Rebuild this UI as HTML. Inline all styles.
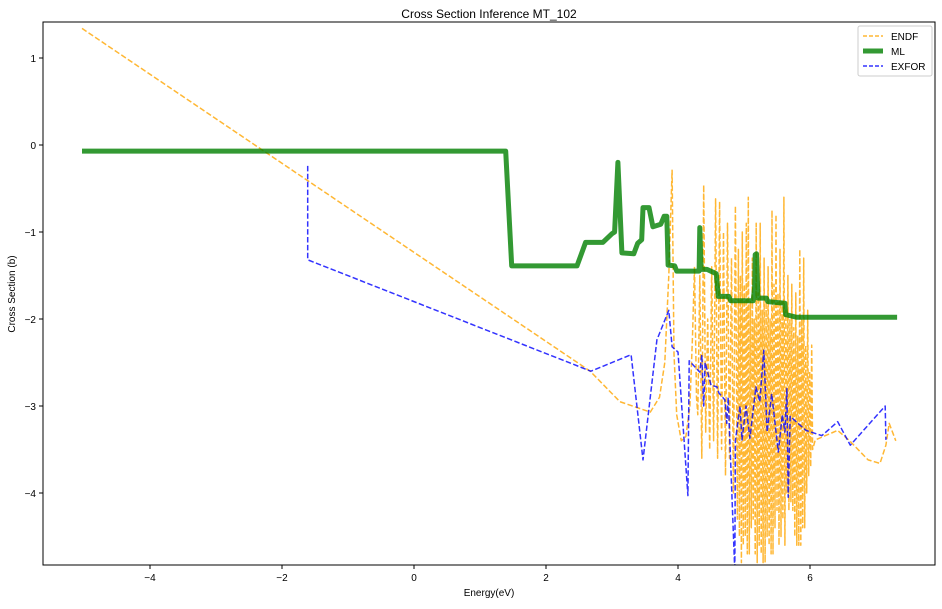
<!DOCTYPE html>
<html><head><meta charset="utf-8"><style>
body{margin:0;background:#fff;font-family:"Liberation Sans",sans-serif;}
svg text{font-family:"Liberation Sans",sans-serif;}
</style></head><body>
<svg id="chart" width="942" height="604" xmlns="http://www.w3.org/2000/svg">
<rect width="942" height="604" fill="#fff"/>
<text x="489" y="18" font-size="12" text-anchor="middle">Cross Section Inference MT_102</text>
<text x="489" y="596" font-size="10" text-anchor="middle">Energy(eV)</text>
<text x="15" y="294" font-size="10" text-anchor="middle" transform="rotate(-90 15 294)">Cross Section (b)</text>
<defs><clipPath id="pc"><rect x="43" y="22" width="892" height="543"/></clipPath></defs>
<g id="ticks"></g>
<g id="series" clip-path="url(#pc)"></g>
<rect x="43" y="22" width="892" height="543" fill="none" stroke="#000" stroke-width="1"/>
<g>
<rect x="858" y="26" width="74" height="50" fill="#fff" stroke="#ccc" rx="2"/>
<line x1="863" y1="36" x2="883" y2="36" stroke="orange" stroke-opacity="0.8" stroke-dasharray="4,2" stroke-width="1.5"/>
<text x="891" y="40" font-size="10">ENDF</text>
<line x1="863" y1="51" x2="883" y2="51" stroke="green" stroke-opacity="0.8" stroke-width="5"/>
<text x="891" y="55" font-size="10">ML</text>
<line x1="863" y1="66" x2="883" y2="66" stroke="blue" stroke-opacity="0.8" stroke-dasharray="4,2" stroke-width="1.5"/>
<text x="891" y="70" font-size="10">EXFOR</text>
</g>
</svg>
<script>
const xTicks=[-4,-2,0,2,4,6];
const yTicks=[1,0,-1,-2,-3,-4];
const mlX=[-5.03,1.39,1.48,2.47,2.6,2.86,3.0,3.04,3.09,3.15,3.33,3.39,3.45,3.47,3.56,3.62,3.74,3.79,3.83,3.85,3.95,3.98,4.32,4.33,4.35,4.44,4.58,4.61,4.77,4.8,5.14,5.16,5.17,5.19,5.21,5.34,5.36,5.62,5.63,5.8,5.84,7.32];
const mlY=[-0.07,-0.07,-1.39,-1.39,-1.12,-1.12,-1.02,-1.0,-0.2,-1.24,-1.25,-1.13,-1.09,-0.72,-0.72,-0.94,-0.91,-0.82,-0.82,-1.38,-1.39,-1.45,-1.45,-0.95,-1.43,-1.43,-1.48,-1.74,-1.74,-1.79,-1.79,-1.64,-1.26,-1.25,-1.76,-1.76,-1.8,-1.82,-1.95,-1.98,-1.98,-1.98];
const endfX=[-5.03,2.67,3.12,3.58,3.72,3.8,3.86,3.91,3.94,3.98,4.05,4.12,4.18,4.22,4.25,4.28,4.30,4.33,4.36,4.39,4.42,4.45,4.48,4.51,4.54,4.57,4.60,4.63,4.66,4.69,4.72,4.75,4.78,4.81,4.84,4.87,
4.900,4.915,4.930,4.945,4.960,4.975,4.990,5.005,5.020,5.035,5.050,5.065,5.080,5.095,5.110,5.125,5.140,5.155,5.170,5.185,5.200,5.215,5.230,5.245,5.260,5.275,5.290,5.305,5.320,5.335,5.350,5.365,5.380,5.395,5.410,5.425,5.440,5.455,5.470,5.485,5.500,5.515,5.530,5.545,5.560,5.575,5.590,5.605,5.620,5.635,5.650,5.665,5.680,5.695,5.710,5.725,5.740,5.755,5.770,5.785,5.800,5.815,5.830,5.845,5.860,5.875,5.890,5.905,5.920,5.935,5.950,5.965,5.980,5.995,6.010,6.025,6.040,
6.08,6.42,6.6,6.88,7.06,7.15,7.2,7.3];
const endfY=[1.34,-2.6,-2.95,-3.07,-2.9,-2.5,-1.5,-0.29,-2.4,-3.1,-3.4,-3.35,-3.0,-2.2,-1.4,-2.9,-3.1,-1.5,-3.6,-0.46,-3.3,-2.0,-3.5,-1.4,-3.4,-0.62,-3.6,-0.65,-3.5,-1.0,-3.8,-0.9,-3.6,-1.3,-4.0,-0.7,
-4.3,-1.2,-4.5,-1.5,-4.8,-1.0,-4.6,-1.6,-4.5,-0.9,-4.7,-0.6,-4.7,-1.8,-4.4,-1.3,-4.3,-2.0,-4.7,-0.9,-4.8,-1.7,-4.6,-0.9,-4.7,-1.9,-4.8,-1.3,-4.8,-1.8,-4.5,-1.4,-4.6,-2.0,-4.7,-0.75,-4.7,-1.6,-4.4,-0.8,-4.2,-1.7,-4.6,-1.2,-4.5,-1.8,-4.3,-0.6,-4.6,-1.9,-4.0,-1.5,-4.2,-2.0,-4.1,-1.6,-4.2,-2.1,-4.5,-1.7,-4.6,-2.2,-4.6,-1.2,-4.6,-2.0,-4.4,-1.3,-4.4,-2.3,-4.0,-1.9,-3.8,-2.6,-3.7,-2.3,-3.5,
-3.39,-3.28,-3.4,-3.62,-3.66,-3.45,-3.2,-3.4];
const exforX=[-1.61,-1.61,2.68,3.29,3.47,3.68,3.86,3.91,4.0,4.15,4.17,4.33,4.36,4.39,4.41,4.5,4.59,4.62,4.71,4.74,4.76,4.86,4.87,4.94,4.97,5.03,5.09,5.18,5.24,5.3,5.35,5.42,5.52,5.58,5.62,5.65,5.67,5.7,5.94,6.18,6.42,6.61,7.14,7.15];
const exforY=[-0.24,-1.32,-2.6,-2.41,-3.62,-2.24,-1.9,-2.32,-2.38,-4.03,-2.48,-2.61,-2.41,-3.0,-2.5,-2.76,-2.78,-2.85,-2.93,-3.2,-2.9,-4.9,-3.4,-3.0,-3.39,-3.0,-3.37,-2.78,-2.95,-2.36,-3.3,-2.86,-3.53,-3.1,-3.3,-2.8,-4.05,-3.12,-3.28,-3.34,-3.18,-3.45,-3.0,-3.39];
const NS='http://www.w3.org/2000/svg';
function sx(v){return 414+v*66;}
function sy(v){return 145-v*87;}
const tg=document.getElementById('ticks');
xTicks.forEach(t=>{
  const l=document.createElementNS(NS,'line');
  
  
  l.setAttribute('x1',sx(t));l.setAttribute('x2',sx(t));l.setAttribute('y1',565);l.setAttribute('y2',569);l.setAttribute('stroke','#000');
  tg.appendChild(l);
  const tx=document.createElementNS(NS,'text');
  
  
  tx.setAttribute('x',sx(t));tx.setAttribute('y',581);tx.setAttribute('font-size','10');tx.setAttribute('text-anchor','middle');
  tx.textContent=t<0?'\u2212'+(-t):t;
  tg.appendChild(tx);
});
yTicks.forEach(t=>{
  const l=document.createElementNS(NS,'line');
  
  
  l.setAttribute('x1',39);l.setAttribute('x2',43);l.setAttribute('y1',sy(t));l.setAttribute('y2',sy(t));l.setAttribute('stroke','#000');
  tg.appendChild(l);
  const tx=document.createElementNS(NS,'text');
  
  
  tx.setAttribute('x',36);tx.setAttribute('y',sy(t)+4);tx.setAttribute('font-size','10');tx.setAttribute('text-anchor','end');
  tx.textContent=t<0?'\u2212'+(-t):t;
  tg.appendChild(tx);
});
const sg=document.getElementById('series');
function line(xs,ys,color,w,dash){
  const p=document.createElementNS(NS,'polyline');
  p.setAttribute('points',xs.map((x,i)=>sx(x).toFixed(1)+','+sy(ys[i]).toFixed(1)).join(' '));
  p.setAttribute('fill','none');p.setAttribute('stroke',color);p.setAttribute('stroke-opacity','0.8');
  p.setAttribute('stroke-width',w);p.setAttribute('stroke-linejoin','round');
  if(dash)p.setAttribute('stroke-dasharray',dash);
  sg.appendChild(p);return p;
}
const e=line(endfX,endfY,'orange',1.5,'5.5,2.4');


const m=line(mlX,mlY,'green',5,null);


const x=line(exforX,exforY,'blue',1.5,'5.5,2.4');


</script>
</body></html>
